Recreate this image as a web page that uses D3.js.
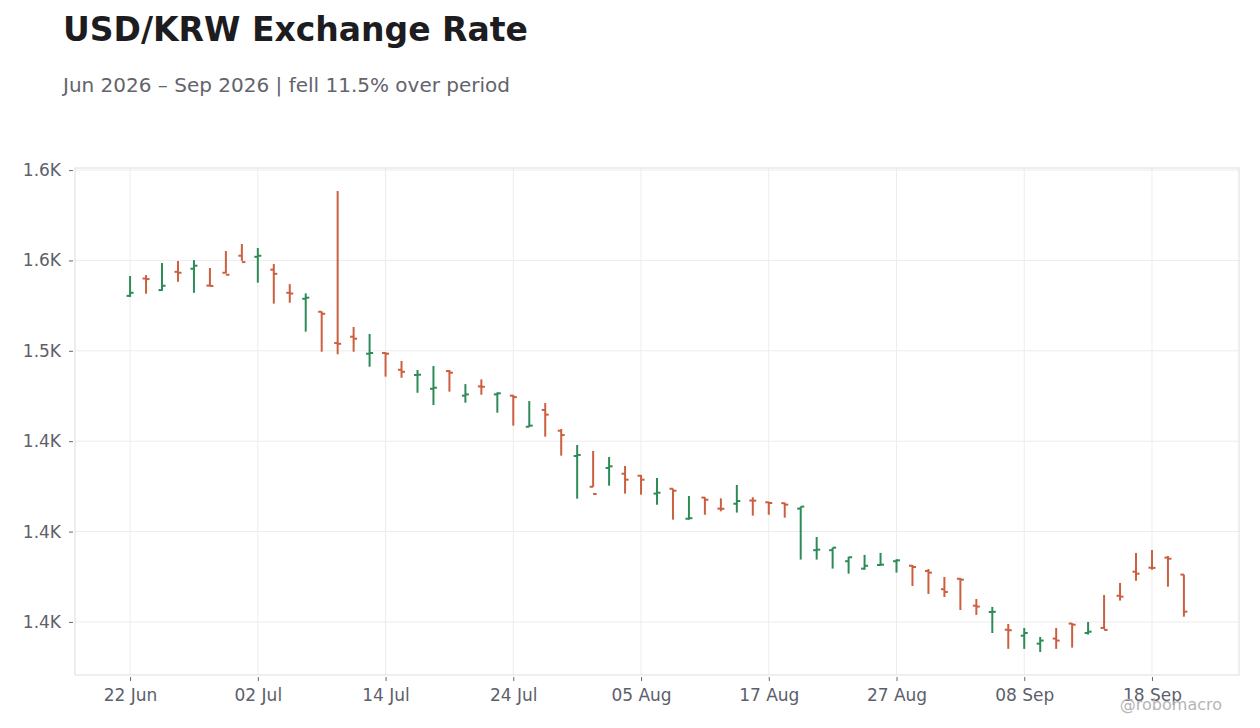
<!DOCTYPE html>
<html>
<head>
<meta charset="utf-8">
<script src="https://cdn.jsdelivr.net/npm/d3@7/dist/d3.min.js"></script>
<style>
  body { margin: 0; background: #fff; }
  text { font-family: "DejaVu Sans", sans-serif; }
</style>
</head>
<body>
<div id="chart"></div>
<script>
// trading days (weekdays) shown on the chart
var dates = [
  "2026-06-22","2026-06-23","2026-06-24","2026-06-25","2026-06-26","2026-06-29","2026-06-30",
  "2026-07-01","2026-07-02","2026-07-03","2026-07-06","2026-07-07","2026-07-08","2026-07-09","2026-07-10",
  "2026-07-13","2026-07-14","2026-07-15","2026-07-16","2026-07-17","2026-07-20","2026-07-21","2026-07-22",
  "2026-07-23","2026-07-24","2026-07-27","2026-07-28","2026-07-29","2026-07-30","2026-07-31",
  "2026-08-03","2026-08-04","2026-08-05","2026-08-06","2026-08-07","2026-08-10","2026-08-11","2026-08-12",
  "2026-08-13","2026-08-14","2026-08-17","2026-08-18","2026-08-19","2026-08-20","2026-08-21","2026-08-24",
  "2026-08-25","2026-08-26","2026-08-27","2026-08-28","2026-08-31",
  "2026-09-01","2026-09-02","2026-09-03","2026-09-04","2026-09-07","2026-09-08","2026-09-09","2026-09-10",
  "2026-09-11","2026-09-14","2026-09-15","2026-09-16","2026-09-17","2026-09-18","2026-09-21","2026-09-22"
];

var open = [
  1530.4,1540.0,1533.6,1543.7,1545.4,1536.1,1543.2,1552.6,1552.0,1544.9,1532.1,
  1528.8,1521.6,1504.3,1507.8,1498.4,1498.8,1489.5,1486.6,1479.0,1488.8,
  1475.2,1480.3,1475.9,1475.2,1458.0,1467.3,1455.8,1441.8,1424.8,1435.2,
  1432.0,1430.9,1421.0,1423.7,1407.1,1418.8,1412.7,1415.4,1417.2,1416.2,
  1415.7,1412.7,1389.7,1389.7,1383.6,1379.5,1381.5,1383.6,1381.1,1378.2,
  1368.1,1373.9,1359.0,1355.5,1345.7,1342.4,1338.0,1340.8,1349.1,1343.9,
  1346.7,1364.5,1377.8,1380.0,1385.6,1376.2
];
var high = [
  1541.4,1541.9,1548.6,1549.7,1550.2,1545.8,1555.2,1559.1,1556.9,1548.0,1536.9,
  1531.8,1521.8,1588.4,1513.2,1509.3,1499.2,1494.4,1489.4,1491.6,1489.4,
  1481.6,1484.2,1477.0,1475.6,1472.2,1471.1,1456.7,1447.9,1444.6,1441.3,
  1436.3,1431.3,1429.6,1423.7,1419.7,1419.0,1418.4,1425.8,1419.0,1416.5,
  1416.0,1413.8,1397.0,1391.1,1386.0,1387.1,1388.2,1384.7,1381.5,1379.3,
  1374.9,1374.2,1362.7,1358.3,1348.9,1346.7,1341.7,1346.7,1349.3,1350.0,
  1364.9,1371.6,1388.2,1389.8,1386.5,1376.2
];
var low = [
  1529.8,1531.6,1533.2,1538.2,1532.1,1535.8,1542.9,1549.8,1537.7,1526.1,1526.6,
  1510.6,1499.5,1498.1,1499.5,1491.2,1485.7,1485.1,1476.8,1470.0,1477.4,
  1471.3,1475.7,1465.8,1458.6,1458.0,1452.5,1442.0,1418.2,1424.7,1425.4,
  1421.0,1420.4,1414.9,1406.6,1406.6,1409.3,1411.2,1410.5,1408.8,1409.3,
  1407.7,1384.5,1384.5,1379.5,1376.7,1378.9,1381.1,1377.3,1369.9,1365.5,
  1363.8,1356.6,1353.9,1343.9,1335.1,1335.1,1333.4,1335.1,1335.8,1343.0,
  1346.0,1361.8,1372.8,1378.9,1369.5,1352.9
];
var close = [
  1532.1,1539.7,1536.0,1543.2,1547.1,1535.9,1542.1,1549.1,1552.6,1542.6,1531.7,
  1529.4,1520.5,1503.9,1506.7,1498.8,1498.4,1488.4,1486.8,1479.6,1487.9,
  1475.9,1480.1,1476.5,1474.4,1458.6,1464.7,1453.4,1442.4,1420.8,1436.1,
  1428.7,1428.7,1421.5,1422.6,1407.4,1417.6,1412.6,1416.9,1417.1,1415.8,
  1414.9,1413.8,1390.0,1391.1,1385.8,1381.1,1381.7,1384.1,1380.4,1377.3,
  1366.6,1373.4,1358.5,1355.6,1345.4,1343.9,1339.7,1339.7,1348.5,1344.6,
  1345.6,1364.0,1376.7,1379.9,1385.0,1355.7
];

var W = 1260, H = 728;
var margin = { left: 75, right: 21, top: 168, bottom: 53 };
var upColor = "#2e8b57", downColor = "#cb5f3f";

var parse = d3.timeParse("%Y-%m-%d");
var data = dates.map(function (d, i) {
    return { date: parse(d), key: d, o: open[i], h: high[i], l: low[i], c: close[i] };
});

var svg = d3.select("#chart").append("svg")
    .attr("width", W)
    .attr("height", H);

// title + subtitle
svg.append("text")
    .attr("x", 63).attr("y", 41)
    .attr("font-size", 33).attr("font-weight", "bold")
    .attr("fill", "#1c1c21")
    .text("USD/KRW Exchange Rate");

var pct = (1 - close[close.length - 1] / close[0]) * 100;
svg.append("text")
    .attr("x", 63).attr("y", 92)
    .attr("font-size", 20)
    .attr("fill", "#62646c")
    .text("Jun 2026 \u2013 Sep 2026 | fell " + pct.toFixed(1) + "% over period");

var x = d3.scalePoint()
    .domain(dates)
    .range([margin.left, W - margin.right])
    .padding(3.45);

var lo = d3.min(low), hi = d3.max(high), pad = (hi - lo) * 0.05;
var y = d3.scaleLinear()
    .domain([lo - pad, hi + pad])
    .range([H - margin.bottom, margin.top]);

var yTicks = y.ticks(6);
var xTicks = dates.filter(function (d, i) { return i % 8 === 0; });

// grid
var grid = svg.append("g");
grid.selectAll(".gy").data(yTicks).enter().append("line")
    .attr("x1", margin.left).attr("x2", W - margin.right)
    .attr("y1", function (d) { return y(d); }).attr("y2", function (d) { return y(d); })
    .attr("stroke", "#ececec");
grid.selectAll(".gx").data(xTicks).enter().append("line")
    .attr("y1", margin.top).attr("y2", H - margin.bottom)
    .attr("x1", function (d) { return x(d); }).attr("x2", function (d) { return x(d); })
    .attr("stroke", "#ececec");

svg.append("rect")
    .attr("x", margin.left).attr("y", margin.top)
    .attr("width", W - margin.left - margin.right)
    .attr("height", H - margin.top - margin.bottom)
    .attr("fill", "none").attr("stroke", "#dedede");

// axes
var yAxis = svg.append("g")
    .attr("transform", "translate(" + (margin.left - 2) + ",0)")
    .call(d3.axisLeft(y).tickValues(yTicks).tickSize(4).tickPadding(8)
        .tickFormat(function (d) { return (d / 1000).toFixed(1) + "K"; }));
var xAxis = svg.append("g")
    .attr("transform", "translate(0," + (H - margin.bottom + 2) + ")")
    .call(d3.axisBottom(x).tickValues(xTicks).tickSize(4).tickPadding(8)
        .tickFormat(function (d) { return d3.timeFormat("%d %b")(parse(d)); }));

[yAxis, xAxis].forEach(function (a) {
    a.select(".domain").remove();
    a.selectAll(".tick line").attr("stroke", "#666");
    a.selectAll(".tick text")
        .attr("font-family", "DejaVu Sans, sans-serif")
        .attr("font-size", 17)
        .attr("fill", "#5c606b");
});

// OHLC bars
var tk = 3.5;
var bars = svg.append("g").selectAll("g").data(data).enter().append("g")
    .attr("stroke", function (d) { return d.c >= d.o ? upColor : downColor; })
    .attr("stroke-width", 2);
bars.append("line")
    .attr("x1", function (d) { return x(d.key); }).attr("x2", function (d) { return x(d.key); })
    .attr("y1", function (d) { return y(d.h); }).attr("y2", function (d) { return y(d.l); });
bars.append("line")
    .attr("x1", function (d) { return x(d.key) - tk; }).attr("x2", function (d) { return x(d.key); })
    .attr("y1", function (d) { return y(d.o); }).attr("y2", function (d) { return y(d.o); });
bars.append("line")
    .attr("x1", function (d) { return x(d.key); }).attr("x2", function (d) { return x(d.key) + tk; })
    .attr("y1", function (d) { return y(d.c); }).attr("y2", function (d) { return y(d.c); });

// watermark (sits over the last date label, as in the source)
svg.append("text")
    .attr("x", 1222).attr("y", 710)
    .attr("text-anchor", "end")
    .attr("font-size", 16)
    .attr("fill", "#b5b5b5")
    .text("@robomacro");
</script>
</body>
</html>
